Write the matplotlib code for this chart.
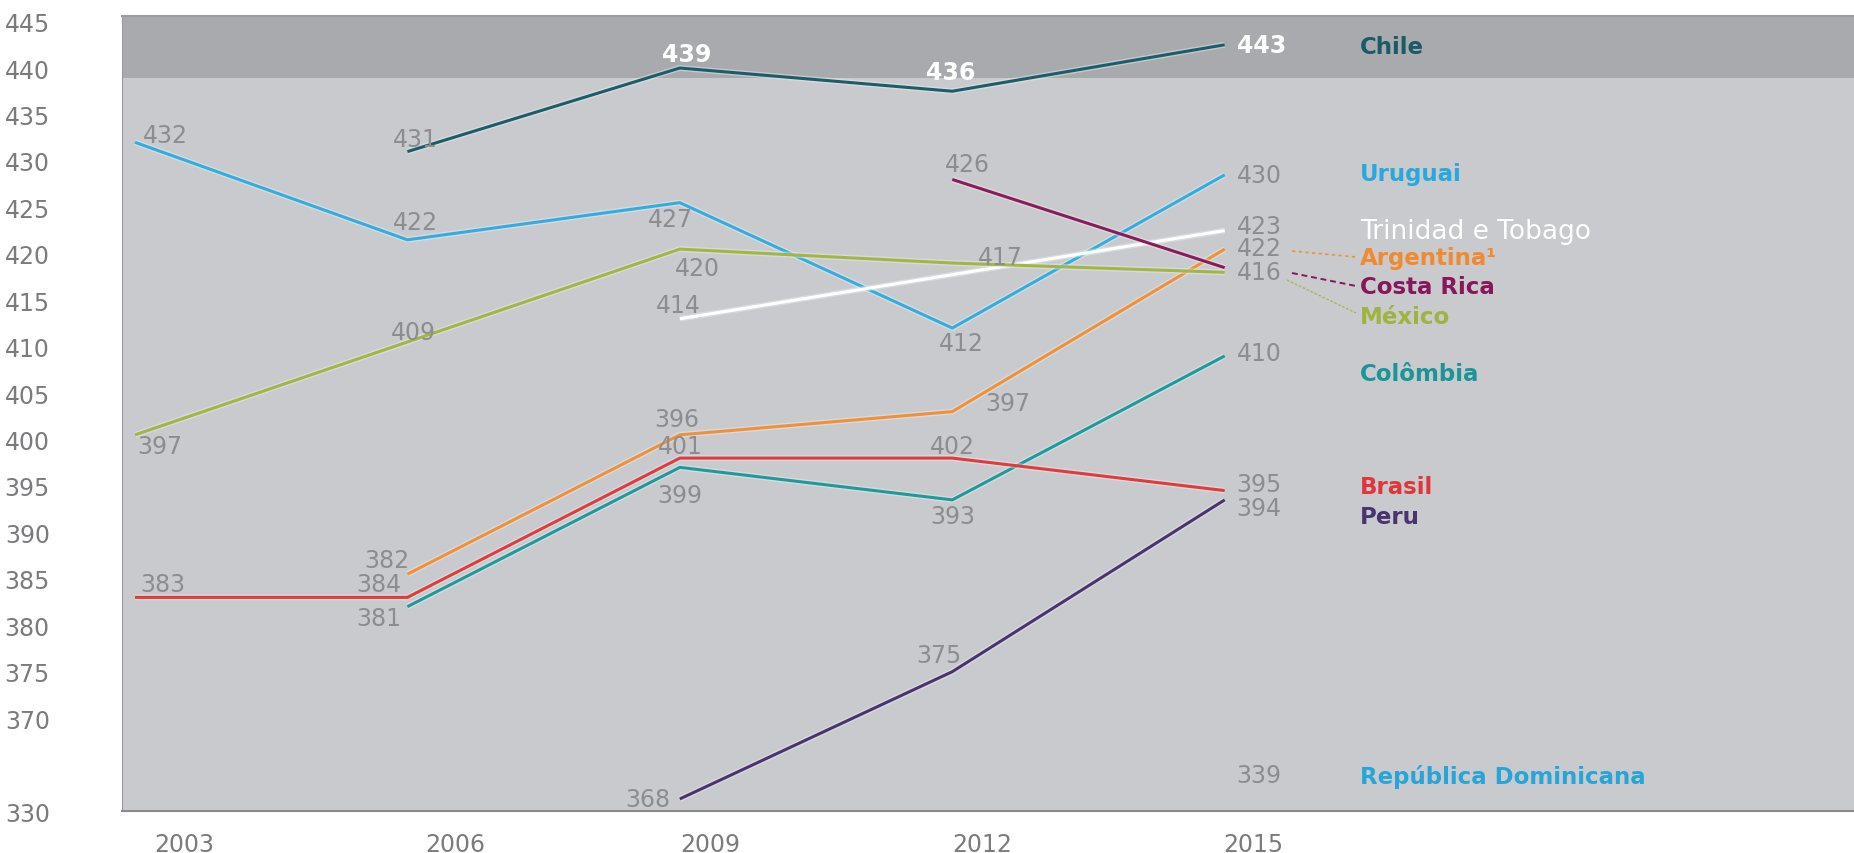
import numpy as np
import matplotlib.pyplot as plt
import matplotlib.patheffects as pe

plt.rcParams['font.family'] = ['DejaVu Sans']

nan = np.nan
years = [2003, 2006, 2009, 2012, 2015]

# values
chile = [nan, 431, 440, 437.5, 442.5]
uruguai = [432, 421.5, 425.5, 412, 428.5]
trinidad = [nan, nan, 413, nan, 422.5]
argentina = [nan, 385.5, 400.5, 403, 420.5]
costa_rica = [nan, nan, nan, 428, 418.5]
mexico = [400.5, 410.5, 420.5, 419, 418]
colombia = [nan, 382, 397, 393.5, 409]
brasil = [383, 383, 398, 398, 394.5]
peru = [nan, nan, 368, 375, 393.5]
rep_dom = 339

# printed numbers on the chart
chile_lbl = ['', '431', '439', '436', '443']
uruguai_lbl = ['432', '422', '427', '412', '430']
trinidad_lbl = ['', '', '414', '', '423']
argentina_lbl = ['', '382', '396', '397', '422']
costa_lbl = ['', '', '', '426', '416']
mexico_lbl = ['397', '409', '420', '417', '']
colombia_lbl = ['', '381', '399', '393', '410']
brasil_lbl = ['383', '384', '401', '402', '395']
peru_lbl = ['', '', '368', '375', '394']

ytick_vals = [330, 370, 375, 380, 385, 390, 395, 400, 405, 410, 415, 420,
              425, 430, 435, 440, 445]

GRAY = '#8c8d91'
W_ = 'white'
end = (12, 0)
# name, values, labels, line colour, label offsets (px, dy up), label colours
series = [
    ('Chile', chile, chile_lbl, '#1d5c68',
     [None, (8, 13), (7, 14), (-2, 19), end], [None, GRAY, W_, W_, W_]),
    ('Uruguai', uruguai, uruguai_lbl, '#33ade0',
     [(30, 7), (8, 18), (-9, -16), (9, -15), end], None),
    ('Trinidad e Tobago', trinidad, trinidad_lbl, '#ffffff',
     [None, None, (-2, 14), None, (12, 5)], None),
    ('Argentina', argentina, argentina_lbl, '#f0913a',
     [None, (-21, 14), (-3, 16), (55, 9), (12, 1)], None),
    ('Costa Rica', costa_rica, costa_lbl, '#8a1c5c',
     [None, None, None, (15, 15), (12, -4)], None),
    ('México', mexico, mexico_lbl, '#a2b646',
     [(25, -11), (6, 10), (18, -19), (48, 6), None], None),
    ('Colômbia', colombia, colombia_lbl, '#1f9a9c',
     [None, (-29, -11), (0, -28), (0, -16), (12, 3)], None),
    ('Brasil', brasil, brasil_lbl, '#e03b3d',
     [(28, 13), (-29, 13), (0, 12), (0, 12), (12, 7)], None),
    ('Peru', peru, peru_lbl, '#4a3470',
     [None, None, (-32, 0), (-13, 17), (12, -8)], None),
]

# country names: left edge and vertical centre in pixels (from top)
names = ['Chile', 'Uruguai', 'Trinidad e Tobago', 'Argentina¹', 'Costa Rica',
         'México', 'Colômbia', 'Brasil', 'Peru', 'República Dominicana']
name_colors = ['#1b5a66', '#28a8dc', '#ffffff', '#f08a30', '#86175a',
               '#9db43e', '#1a9598', '#e0353a', '#4a3470', '#26a6d8']
name_y = [47, 175, 232, 259, 287, 317, 375, 488, 517, 777]
name_x = 1360
tick_shift = [0.54, 0.53, 0.33, 0.33, 0.32]


def fwd(v):
    return np.interp(v, [300, 330, 368, 370, 500], [359, 360, 361.3, 370, 500])


def inv(t):
    return np.interp(t, [359, 360, 361.3, 370, 500], [300, 330, 368, 370, 500])


W, H = 1854, 854
fig = plt.figure(figsize=(W / 100, H / 100), dpi=100)
ax = fig.add_axes([122 / W, 1 - 812 / H, 1 - 122 / W, (812 - 17) / H])
ax.set_facecolor('#c9cacd')
ax.set_yscale('function', functions=(fwd, inv))
ax.set_xlim(2002.857, 2021.93)
ax.set_ylim(330, 445.6)
ax.axhspan(438.9, 446, color='#a8aaad', zorder=0, lw=0)

halo = [pe.Stroke(linewidth=4.2, foreground='#e8eef0', alpha=0.45), pe.Normal()]
for name, vals, lbls, color, offs, lcols in series:
    xs = [y for y, v in zip(years, vals) if not np.isnan(v)]
    vs = [v for v in vals if not np.isnan(v)]
    ax.plot(xs, vs, color=color, lw=2.2, solid_capstyle='butt',
            path_effects=halo, zorder=3)
    for i, (y, v, t, o) in enumerate(zip(years, vals, lbls, offs)):
        if not t or o is None:
            continue
        c = lcols[i] if lcols else GRAY
        ha = 'left' if y == 2015 else 'center'
        ax.annotate(t, xy=(y, v), xytext=o, textcoords='offset pixels',
                    ha=ha, va='center', fontsize=17, color=c, zorder=4,
                    fontweight='bold' if c == W_ else 'normal')

ax.annotate(str(rep_dom), xy=(2015, rep_dom), xytext=(12, 33),
            textcoords='offset pixels', ha='left', va='center',
            fontsize=17, color=GRAY)

for t, c, yy in zip(names, name_colors, name_y):
    white = c == '#ffffff'
    fig.text(name_x / W, 1 - yy / H, t, color=c,
             fontsize=19 if white else 16.5,
             fontweight='normal' if white else 'bold',
             ha='left', va='center')

# leader lines from the crowded 2015 numbers
leaders = [((1292, 252), (1356, 258), '#f0913a', (0, (2, 2)), 1.2),
           ((1292, 274), (1356, 287), '#86175a', (0, (3, 2)), 1.4),
           ((1287, 281), (1356, 314), '#a2b646', (0, (2, 1.5)), 0.9)]
for (x0, y0), (x1, y1), c, ls, lw in leaders:
    fig.add_artist(plt.Line2D([x0 / W, x1 / W], [1 - y0 / H, 1 - y1 / H],
                              transform=fig.transFigure, color=c, ls=ls, lw=lw))

ax.set_xticks(np.array(years) + np.array(tick_shift))
ax.set_xticklabels([str(y) for y in years])
ax.set_yticks(ytick_vals)
ax.set_yticklabels([str(v) for v in ytick_vals])
ax.yaxis.set_minor_locator(plt.NullLocator())
ax.tick_params(axis='both', length=0, labelsize=17, labelcolor='#7b7b7d')
ax.tick_params(axis='y', pad=52)
ax.tick_params(axis='x', pad=15)
ax.spines['right'].set_visible(False)
ax.spines['left'].set_color('#9a9a9c')
ax.spines['top'].set_color('#9c9c9e')
ax.spines['top'].set_linewidth(1.5)
ax.spines['bottom'].set_color('#8a8a8c')
ax.spines['bottom'].set_linewidth(1.5)

fig.savefig('out.png', dpi=100, facecolor='white')
